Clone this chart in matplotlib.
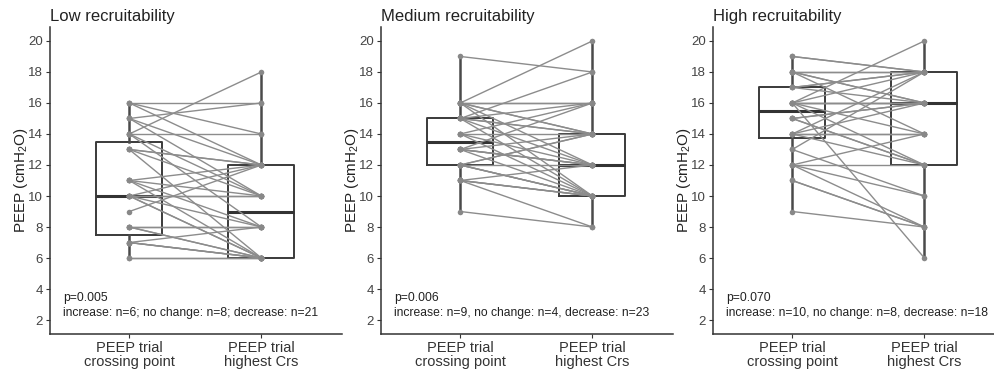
import matplotlib
matplotlib.use("Agg")
import matplotlib.pyplot as plt
import numpy as np

plt.rcParams['font.family'] = ['Liberation Sans', 'DejaVu Sans']

# ---------------- data ----------------
categories = ["PEEP trial\ncrossing point", "PEEP trial\nhighest Crs"]
titles = ["Low recruitability", "Medium recruitability", "High recruitability"]
p_texts = ["p=0.005", "p=0.006", "p=0.070"]
count_texts = ["increase: n=6; no change: n=8; decrease: n=21",
               "increase: n=9, no change: n=4, decrease: n=23",
               "increase: n=10, no change: n=8, decrease: n=18"]

low_before = [16, 14, 10, 10, 8, 8, 6, 6,
              15, 14, 11, 10, 9, 7,
              16, 16, 15, 15, 14, 14, 13, 13, 13, 13, 11, 11, 11, 10, 10, 10, 8, 8, 7, 7, 7]
low_after = [16, 14, 10, 10, 8, 8, 6, 6,
             16, 18, 12, 12, 12, 8,
             14, 12, 12, 10, 10, 8, 12, 12, 10, 6, 10, 8, 6, 8, 6, 6, 6, 6, 6, 6, 6]

med_before = [16, 16, 14, 12,
              16, 15, 15, 14, 13, 13, 12, 12, 11,
              19, 16, 16, 16, 16, 15, 15, 15, 15, 14, 14, 13, 13, 13, 13, 12, 12, 12, 11, 11, 11, 11, 9]
med_after = [16, 16, 14, 12,
             20, 18, 16, 16, 16, 14, 14, 14, 12,
             18, 14, 14, 12, 10, 14, 14, 12, 10, 12, 10, 12, 12, 12, 10, 10, 10, 10, 10, 10, 10, 8, 8]

high_before = [18, 18, 16, 16, 16, 14, 14, 12,
               16, 17, 17, 15, 15, 14, 14, 13, 12, 16,
               19, 19, 17, 18, 18, 18, 16, 16, 16, 15, 15, 14, 13, 12, 12, 11, 11, 9]
high_after = [18, 18, 16, 16, 16, 14, 14, 12,
              20, 18, 18, 16, 16, 16, 18, 18, 14, 18,
              18, 18, 16, 16, 16, 14, 14, 12, 6, 12, 12, 12, 10, 10, 8, 8, 8, 8]

befores = [low_before, med_before, high_before]
afters = [low_after, med_after, high_after]

# box statistics (crossing point, highest Crs)
box_q1 = [[7.5, 6], [12, 10], [13.75, 12]]
box_med = [[10, 9], [13.5, 12], [15.5, 16]]
box_q3 = [[13.5, 12], [15, 14], [17, 18]]
box_lo = [[6, 6], [9, 8], [9, 6]]
box_hi = [[16, 18], [19, 20], [19, 20]]
yticks = [2, 4, 6, 8, 10, 12, 14, 16, 18, 20]

# ---------------- figure ----------------
W, H = 995, 377
fig = plt.figure(figsize=(W / 100, H / 100), dpi=100)

axis_col = '#333333'
line_col = '#8c8c8c'
box_col = '#3a3a3a'

lefts = [50, 381, 713]
for i in range(3):
    ax = fig.add_axes([lefts[i] / W, 43 / H, 292 / W, 307 / H])
    ax.set_xlim(0.4, 2.61)
    ax.set_ylim(1.1, 20.9)

    stats = []
    for j in range(2):
        stats.append(dict(med=box_med[i][j], q1=box_q1[i][j], q3=box_q3[i][j],
                          whislo=box_lo[i][j], whishi=box_hi[i][j], fliers=[]))
    ax.bxp(stats, positions=[1, 2], widths=0.5, showcaps=False, showfliers=False,
           patch_artist=False,
           boxprops=dict(color=box_col, linewidth=1.4),
           whiskerprops=dict(color='#4a4a4a', linewidth=1.8),
           medianprops=dict(color='#333333', linewidth=2.2),
           zorder=1)

    b = np.array(befores[i], dtype=float)
    a = np.array(afters[i], dtype=float)
    for yb, ya in zip(b, a):
        ax.plot([1, 2], [yb, ya], color=line_col, lw=1.0, zorder=2,
                solid_capstyle='round')
    ax.scatter(np.ones_like(b), b, s=16, color='#888888', zorder=3, linewidths=0)
    ax.scatter(np.full_like(a, 2), a, s=16, color='#888888', zorder=3, linewidths=0)

    ax.set_xticks([1, 2])
    ax.set_xticklabels(categories, fontsize=10.5, color='#333333', linespacing=1.05)
    ax.set_yticks(yticks)
    ax.set_yticklabels([str(t) for t in yticks], fontsize=9.5, color='#444444')
    ax.tick_params(axis='both', length=3, width=0.8, color=axis_col, pad=2)
    for s in ['top', 'right']:
        ax.spines[s].set_visible(False)
    for s in ['left', 'bottom']:
        ax.spines[s].set_color(axis_col)
        ax.spines[s].set_linewidth(1.1)
    ax.set_ylabel('PEEP (cmH$_\\mathregular{2}$O)', fontsize=11, color='#222222', labelpad=-1)

    ax.text(0.0, 1.018, titles[i], transform=ax.transAxes, fontsize=12,
            ha='left', va='baseline', color='#222222')
    ax.text(0.5, 3.4, p_texts[i], fontsize=8.7, ha='left', va='center', color='#222222')
    ax.text(0.5, 2.45, count_texts[i], fontsize=8.7, ha='left', va='center', color='#222222')

fig.savefig('out.png', dpi=100)
